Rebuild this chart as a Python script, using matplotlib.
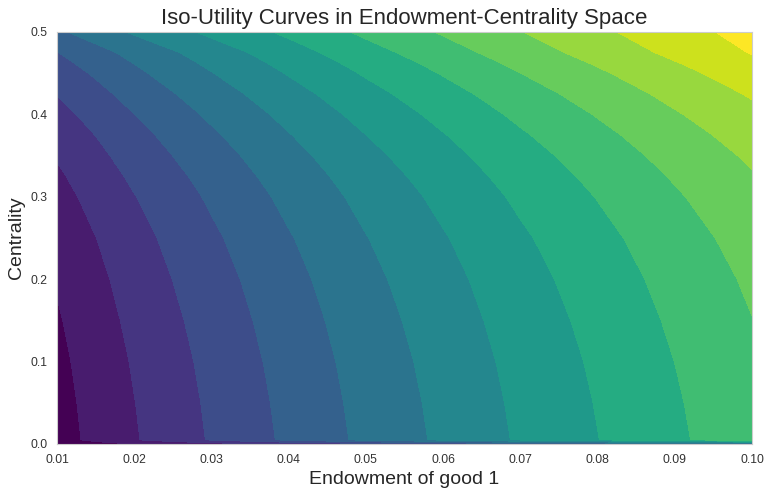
import numpy as np
import matplotlib
matplotlib.use("Agg")
import matplotlib.pyplot as plt
import seaborn as sns

# grid
endowment = [0.01, 0.0125, 0.015, 0.0175, 0.02, 0.025, 0.03, 0.035, 0.04,
             0.05, 0.06, 0.07, 0.08, 0.09, 0.10]
centrality = [0.0, 0.005, 0.05, 0.10, 0.15, 0.20, 0.25, 0.30, 0.325, 0.35,
              0.375, 0.40, 0.425, 0.45, 0.4625, 0.475, 0.50]

# utility (in contour-step units) just above the bottom edge, per endowment column
utility_low = [-0.42, -0.08, 0.25, 0.59, 0.91, 1.51, 2.09, 2.64, 3.19,
               4.23, 5.19, 6.12, 6.98, 7.83, 8.66]
# how far each centrality row lifts the utility (rows 0.005 .. 0.475)
centrality_gain = [0.0, 0.07, 0.175, 0.32, 0.50, 0.735, 1.055, 1.26, 1.495,
                   1.765, 2.08, 2.445, 2.875, 3.12, 3.39]
# the two edge rows, read separately
utility_at_zero = [-0.71, -0.54, -0.38, -0.21, -0.05, 0.26, 0.55, 0.82, 1.10,
                   1.62, 2.10, 2.56, 2.99, 3.42, 3.83]
utility_at_top = [3.80, 4.15, 4.49, 4.83, 5.13, 5.68, 6.22, 6.72, 7.20,
                  8.20, 9.10, 9.97, 10.80, 11.60, 12.36]

# contour level edges (14 filled bands)
levels = [-5, 0, 1, 2, 3, 4, 5, 6, 7, 8, 9, 10, 11, 12, 20]

# utility table for contourf
middle = np.add.outer(centrality_gain, utility_low)
utility = np.vstack([utility_at_zero, middle, utility_at_top])

sns.set_style("whitegrid")
plt.rcParams['font.family'] = ['Liberation Sans', 'DejaVu Sans']

fig = plt.figure(figsize=(7.65, 4.93), dpi=100)
ax = fig.add_axes([0.0745, 0.0994, 0.9085, 0.8357])

band_colors = plt.cm.viridis(np.linspace(0, 1, len(levels) - 1))
ax.contourf(endowment, centrality, utility, levels=levels, colors=band_colors)

ax.set_xlim(0.01, 0.10)
ax.set_ylim(0.0, 0.5)
ax.set_xticks([0.01, 0.02, 0.03, 0.04, 0.05, 0.06, 0.07, 0.08, 0.09, 0.10])
ax.set_xticklabels(['0.01', '0.02', '0.03', '0.04', '0.05', '0.06', '0.07', '0.08', '0.09', '0.10'])
ax.set_yticks([0.0, 0.1, 0.2, 0.3, 0.4, 0.5])
ax.tick_params(labelsize=8.7, colors='#333333')
for s in ax.spines.values():
    s.set_color('#cccccc')

ax.set_title('Iso-Utility Curves in Endowment-Centrality Space', fontsize=16, color='#262626')
ax.set_xlabel('Endowment of good 1', fontsize=14, color='#262626')
ax.set_ylabel('Centrality', fontsize=14, color='#262626')

fig.savefig('out.png', dpi=100)
